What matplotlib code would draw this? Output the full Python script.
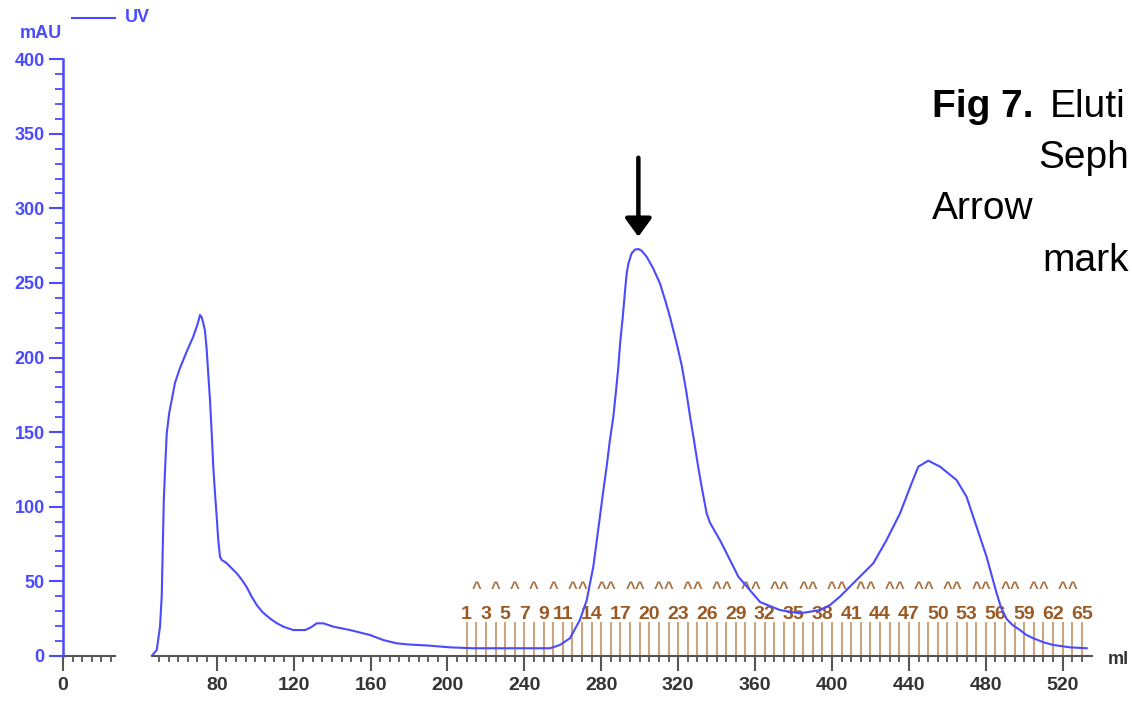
import numpy as np
import matplotlib
matplotlib.use('Agg')
import matplotlib.pyplot as plt
from matplotlib.ticker import FixedLocator, NullFormatter

plt.rcParams['font.family'] = ['Liberation Sans', 'DejaVu Sans']

# UV trace (ml, mAU)
volume = [46.3, 48.8, 50.5, 51.4, 51.9, 52.5, 53.2, 54.0, 55.3, 56.6,
          58.3, 60.9, 64.4, 67.8, 69.6, 70.6, 71.3, 72.2, 73.0, 73.9,
          74.8, 75.6, 76.5, 77.4, 78.2, 79.1, 80.0, 80.8, 81.7, 82.6,
          83.5, 85.2, 87.5, 90.4, 93.0, 95.6, 98.0, 100.8, 104.0, 107.7,
          111.0, 114.6, 119.8, 126.0, 129.0, 132.0, 135.5, 140.6, 149.3, 159.7,
          166.6, 173.6, 180.0, 190.0, 201.3, 213.4, 230.0, 253.4, 258.5, 263.7,
          268.9, 272.4, 275.9, 279.3, 281.1, 282.8, 284.5, 286.3, 287.7, 288.9,
          289.8, 291.2, 292.4, 293.2, 294.1, 295.8, 297.5, 299.3, 301.0, 303.6,
          307.0, 310.5, 313.2, 315.7, 319.2, 321.8, 324.1, 326.2, 328.2, 330.4,
          332.2, 334.8, 336.6, 341.7, 345.2, 351.3, 362.6, 373.0, 383.3, 393.7,
          399.0, 404.1, 412.8, 421.5, 428.4, 435.4, 441.4, 444.9, 450.1, 456.2,
          464.8, 470.0, 475.2, 480.4, 485.6, 488.0, 490.9, 494.0, 497.8, 501.0,
          504.7, 510.0, 515.1, 523.8, 532.5]
uv = [0, 3.8, 19.5, 40, 70, 105, 127, 149, 163, 171.5,
      183, 193, 204, 214, 220.7, 225, 228.5, 227, 223, 218,
      205, 189, 171.5, 149, 127, 109, 93, 77.6, 66.4, 64.2,
      63.5, 62, 59, 55.3, 51, 46, 40, 34, 29, 25,
      22, 19.5, 17.2, 17.2, 19, 21.7, 21.7, 19.5, 17.2, 13.9,
      10.5, 8.3, 7.5, 6.8, 5.6, 5.0, 5.0, 5.0, 7.2, 11.7,
      24, 37, 60, 93.2, 111, 126.8, 144.7, 160.3, 178, 193.8,
      209.5, 227.4, 245.3, 256, 263, 269.9, 272.3, 272.8, 271.6, 267.6,
      259.8, 249.8, 238.6, 227.4, 209.5, 195, 178.2, 160.3, 144.7, 126.8,
      113.4, 95.5, 89, 77.6, 68.7, 53, 36, 30.6, 28.4, 30.6,
      34, 39.6, 50.8, 62, 77.6, 95.5, 115.6, 126.8, 130.8, 126.8,
      117.8, 106.6, 86.5, 66.4, 42, 32, 24.5, 20.5, 17.2, 14,
      11.7, 9, 7.2, 5.6, 5.0]

# fractions: 65 tubes of 5 ml starting at 210 ml
fractions = np.arange(1, 66)
frac_start = 210
frac_size = 5
labelled = [1, 3, 5, 7, 9] + list(range(11, 66, 3))

x_major = [0, 80, 120, 160, 200, 240, 280, 320, 360, 400, 440, 480, 520]
x_minor = list(range(0, 30, 5)) + list(range(50, 535, 5))

blue = '#4a4aff'
brown = '#9a5a24'
tan = '#c9a582'
grey = '#555555'

fig = plt.figure(figsize=(11.32, 7.02), dpi=100)
ax = fig.add_axes([0.05557, 0.06595, 0.90869, 0.84957])

frac_x = frac_start + frac_size * (fractions - 1)
ax.vlines(frac_x, 0, 22.8, color=tan, lw=1.5, zorder=1)
for f, x in zip(fractions, frac_x):
    if f in labelled:
        ax.text(x, 24.5, str(f), ha='center', va='baseline', color=brown,
                fontsize=14, fontweight='bold', zorder=2)
    else:
        ax.text(x, 42, '^', ha='center', va='baseline', color='#a66e3e',
                fontsize=12, fontweight='bold', zorder=2)

ax.plot(volume, uv, color=blue, lw=1.5, zorder=3)

ax.annotate('', xy=(299.3, 281), xytext=(299.3, 334),
            arrowprops=dict(arrowstyle='-|>,head_length=0.55,head_width=0.4',
                            lw=3.2, color='black', mutation_scale=20,
                            shrinkA=0, shrinkB=0))

ax.set_xlim(0, 535)
ax.set_ylim(0, 400)

# broken x-axis line
ax.spines['bottom'].set_visible(False)
ax.spines['top'].set_visible(False)
ax.spines['right'].set_visible(False)
ax.plot([0, 27], [0, 0], color=grey, lw=1.5, clip_on=False, zorder=4)
ax.plot([46.2, 535], [0, 0], color=grey, lw=1.5, clip_on=False, zorder=4)
ax.spines['left'].set_color(blue)
ax.spines['left'].set_linewidth(1.8)
ax.spines['left'].set_zorder(5)

ax.xaxis.set_major_locator(FixedLocator(x_major))
ax.xaxis.set_minor_locator(FixedLocator(x_minor))
ax.xaxis.set_minor_formatter(NullFormatter())
ax.tick_params(axis='x', which='major', length=11, width=1.5, color=grey,
               pad=4, labelsize=14, labelcolor='#333333')
ax.tick_params(axis='x', which='minor', length=4, width=1.3, color=grey)
for lbl in ax.get_xticklabels():
    lbl.set_fontweight('bold')

ax.set_yticks(np.arange(0, 401, 50))
ax.set_yticks(np.arange(0, 401, 10), minor=True)
ax.tick_params(axis='y', which='major', length=10, width=1.5, color=blue,
               pad=3, labelsize=13, labelcolor=blue)
ax.tick_params(axis='y', which='minor', length=6, width=1.3, color=blue)
for lbl in ax.get_yticklabels():
    lbl.set_fontweight('bold')


def fx(px):
    return px / 1132


def fy(py):
    return 1 - py / 702


fig.add_artist(plt.Line2D([fx(72), fx(115)], [fy(18.3), fy(18.3)], color=blue, lw=1.5))
fig.text(fx(125), fy(18), 'UV', color=blue, fontsize=13, fontweight='bold', va='center')
fig.text(fx(40.5), fy(33.5), 'mAU', color=blue, fontsize=13, fontweight='bold',
         ha='center', va='center')
fig.text(fx(1108), fy(660), 'ml', color='#333333', fontsize=13, fontweight='bold',
         va='center')

fig.text(fx(932), fy(116.7), 'Fig 7.', fontsize=28, fontweight='bold', va='baseline')
fig.text(fx(1050), fy(116.7), 'Eluti', fontsize=28, va='baseline')
fig.text(fx(1038), fy(168.3), 'Seph', fontsize=28, va='baseline')
fig.text(fx(932), fy(219.3), 'Arrow', fontsize=28, va='baseline')
fig.text(fx(1042), fy(270.7), 'mark', fontsize=28, va='baseline')

fig.savefig('out.png', dpi=100)
